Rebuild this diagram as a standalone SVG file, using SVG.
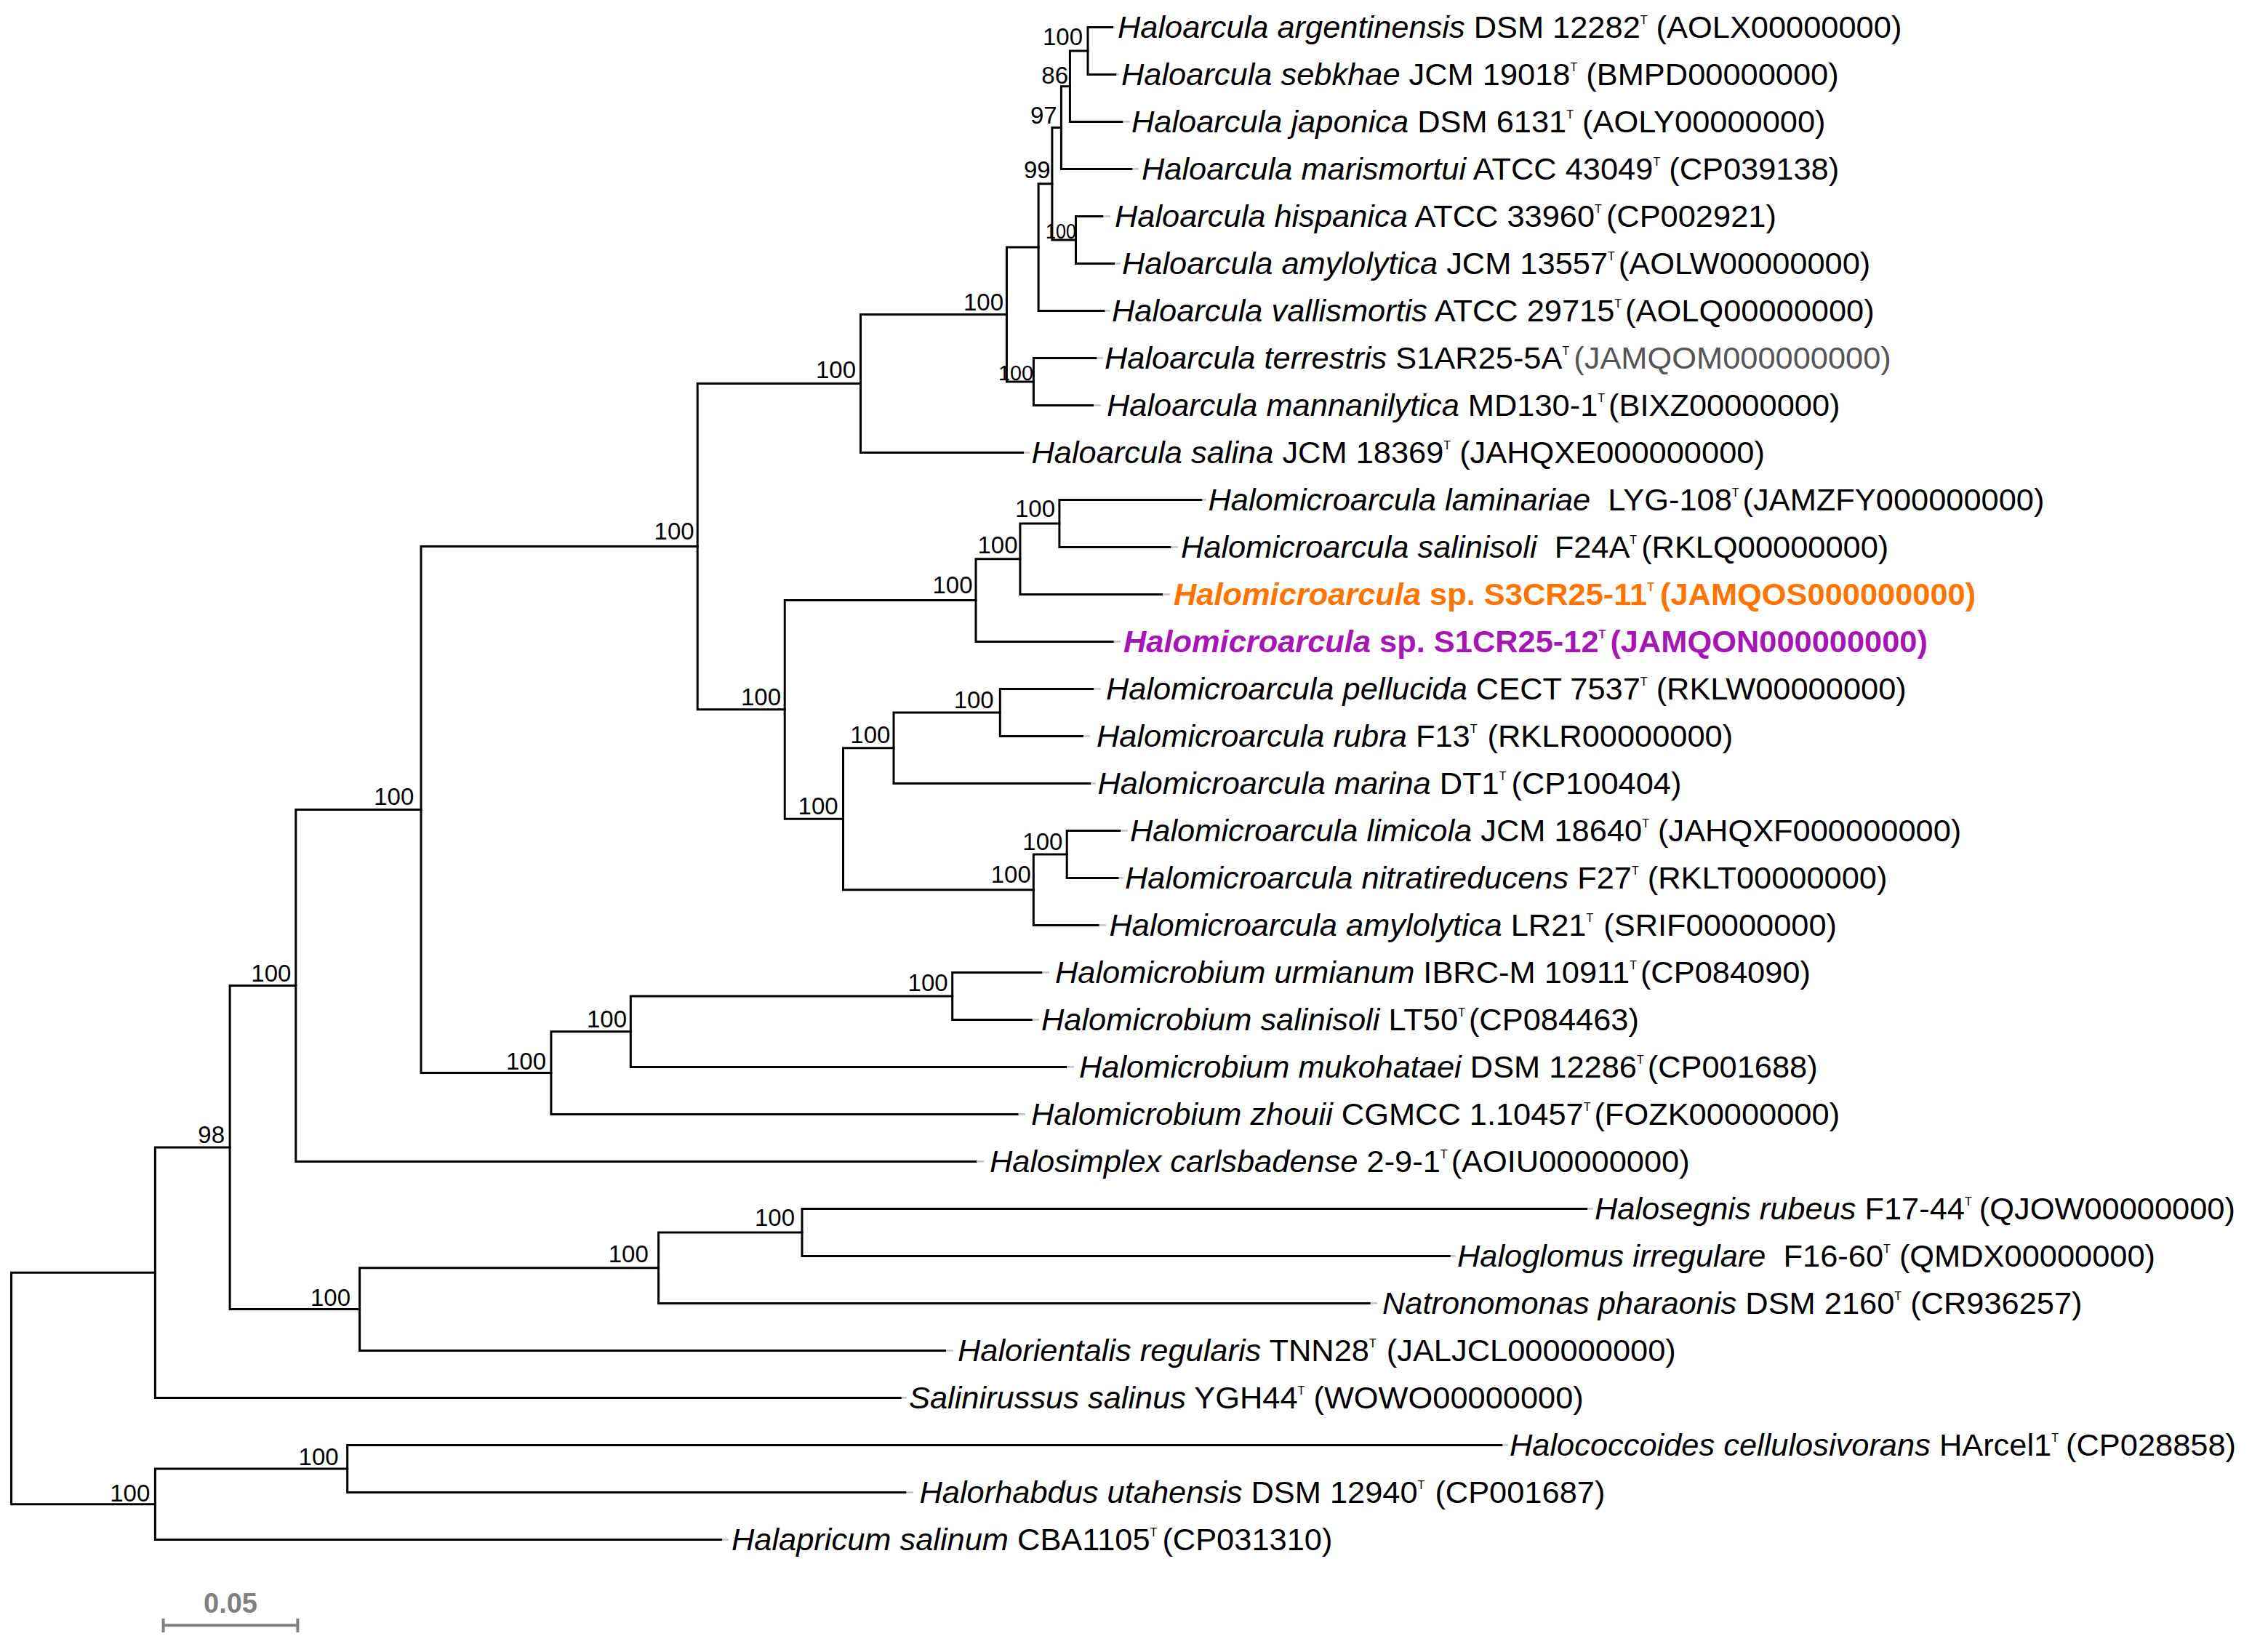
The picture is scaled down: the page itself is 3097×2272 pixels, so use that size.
<svg xmlns="http://www.w3.org/2000/svg" width="3097" height="2272" viewBox="0 0 3097 2272">
<style>
.br{fill:none;stroke:#000;stroke-width:3;stroke-linecap:square;stroke-linejoin:miter}
.tk{stroke:#c4c4c4;stroke-width:2.5}
.lf{font-family:"Liberation Sans",Arial,sans-serif;font-size:43.4px;fill:#000;white-space:pre}
.it{font-style:italic}
.sup{font-size:16px}
.bs{font-family:"Liberation Sans",Arial,sans-serif;font-size:33px;fill:#000;text-anchor:end}
.or{fill:#ff7300;font-weight:bold}
.pu{fill:#a616b5;font-weight:bold}
.gr{fill:#555}
</style>
<rect width="3097" height="2272" fill="#fff"/>
<g id="connectors">
<path class="br" d="M1529.5 37.4H1496V102.4H1534"/>
<path class="br" d="M1496 69.9H1471.4V167.4H1543"/>
<path class="br" d="M1471.4 118.65H1459.4V232.4H1556"/>
<path class="br" d="M1516 297.4H1479.5V362.4H1531.7"/>
<path class="br" d="M1459.4 175.5H1446.9V329.9H1479.5"/>
<path class="br" d="M1446.9 252.7H1428.1V427.4H1518"/>
<path class="br" d="M1507 492.4H1421.4V557.4H1502.7"/>
<path class="br" d="M1428.1 340.05H1384.4V524.9H1421.4"/>
<path class="br" d="M1384.4 432.5H1183.5V622.4H1406.7"/>
<path class="br" d="M1652 687.4H1456.9V752.4H1609"/>
<path class="br" d="M1456.9 719.9H1402.9V817.4H1597.5"/>
<path class="br" d="M1402.9 768.65H1342V882.4H1530.3"/>
<path class="br" d="M1502.8 947.4H1375.3V1012.4H1488.4"/>
<path class="br" d="M1375.3 979.9H1229V1077.4H1498.8"/>
<path class="br" d="M1540 1142.4H1467.2V1207.4H1537.2"/>
<path class="br" d="M1467.2 1174.9H1421.3V1272.4H1510.2"/>
<path class="br" d="M1229 1028.65H1159.5V1223.65H1421.3"/>
<path class="br" d="M1342 825.5H1079.2V1126.15H1159.5"/>
<path class="br" d="M1183.5 527.45H959.2V975.8H1079.2"/>
<path class="br" d="M1432 1337.4H1309.7V1402.4H1418.3"/>
<path class="br" d="M1309.7 1369.9H867.3V1467.4H1465.8"/>
<path class="br" d="M867.3 1418.65H757.9V1532.4H1399.2"/>
<path class="br" d="M959.2 751.6H579V1475.5H757.9"/>
<path class="br" d="M579 1113.55H406.8V1597.4H1341.8"/>
<path class="br" d="M2181.7 1662.4H1103V1727.4H1993.3"/>
<path class="br" d="M1103 1694.9H905.6V1792.4H1883.3"/>
<path class="br" d="M905.6 1743.65H494.6V1857.4H1299.7"/>
<path class="br" d="M406.8 1355.5H316.1V1800.5H494.6"/>
<path class="br" d="M316.1 1578H213.4V1922.4H1238.3"/>
<path class="br" d="M2065 1987.4H477.7V2052.4H1245"/>
<path class="br" d="M477.7 2019.9H213.4V2117.4H991.7"/>
<path class="br" d="M213.4 1750.2H15.6V2068.65H213.4"/>
<g class="tk">
<line x1="1531" y1="37.4" x2="1533" y2="37.4"/>
<line x1="1535.5" y1="102.4" x2="1539" y2="102.4"/>
<line x1="1544.5" y1="167.4" x2="1554" y2="167.4"/>
<line x1="1557.5" y1="232.4" x2="1566" y2="232.4"/>
<line x1="1517.5" y1="297.4" x2="1527" y2="297.4"/>
<line x1="1533.2" y1="362.4" x2="1541" y2="362.4"/>
<line x1="1519.5" y1="427.4" x2="1527" y2="427.4"/>
<line x1="1508.5" y1="492.4" x2="1517" y2="492.4"/>
<line x1="1504.2" y1="557.4" x2="1514" y2="557.4"/>
<line x1="1408.2" y1="622.4" x2="1416" y2="622.4"/>
<line x1="1653.5" y1="687.4" x2="1659" y2="687.4"/>
<line x1="1610.5" y1="752.4" x2="1620" y2="752.4"/>
<line x1="1599" y1="817.4" x2="1609" y2="817.4"/>
<line x1="1531.8" y1="882.4" x2="1541" y2="882.4"/>
<line x1="1504.3" y1="947.4" x2="1514" y2="947.4"/>
<line x1="1489.9" y1="1012.4" x2="1499" y2="1012.4"/>
<line x1="1500.3" y1="1077.4" x2="1507" y2="1077.4"/>
<line x1="1541.5" y1="1142.4" x2="1551" y2="1142.4"/>
<line x1="1538.7" y1="1207.4" x2="1545" y2="1207.4"/>
<line x1="1511.7" y1="1272.4" x2="1521" y2="1272.4"/>
<line x1="1433.5" y1="1337.4" x2="1443" y2="1337.4"/>
<line x1="1419.8" y1="1402.4" x2="1429" y2="1402.4"/>
<line x1="1467.3" y1="1467.4" x2="1477" y2="1467.4"/>
<line x1="1400.7" y1="1532.4" x2="1410" y2="1532.4"/>
<line x1="1343.3" y1="1597.4" x2="1353" y2="1597.4"/>
<line x1="2183.2" y1="1662.4" x2="2191" y2="1662.4"/>
<line x1="1994.8" y1="1727.4" x2="2002" y2="1727.4"/>
<line x1="1884.8" y1="1792.4" x2="1894" y2="1792.4"/>
<line x1="1301.2" y1="1857.4" x2="1311" y2="1857.4"/>
<line x1="1239.8" y1="1922.4" x2="1247" y2="1922.4"/>
<line x1="2066.5" y1="1987.4" x2="2074" y2="1987.4"/>
<line x1="1246.5" y1="2052.4" x2="1256" y2="2052.4"/>
<line x1="993.2" y1="2117.4" x2="1002" y2="2117.4"/>
</g>
</g>
<g id="leaf-0"><text class="lf" x="1537" y="52.4"><tspan class="it">Haloarcula argentinensis</tspan> DSM 12282<tspan class="sup" dy="-19">T</tspan><tspan dy="19"> (AOLX00000000)</tspan></text></g>
<g id="leaf-1"><text class="lf" x="1542" y="117.4"><tspan class="it">Haloarcula sebkhae</tspan> JCM 19018<tspan class="sup" dy="-19">T</tspan><tspan dy="19"> (BMPD00000000)</tspan></text></g>
<g id="leaf-2"><text class="lf" x="1556" y="182.4"><tspan class="it">Haloarcula japonica</tspan> DSM 6131<tspan class="sup" dy="-19">T</tspan><tspan dy="19"> (AOLY00000000)</tspan></text></g>
<g id="leaf-3"><text class="lf" x="1570" y="247.4"><tspan class="it">Haloarcula marismortui</tspan> ATCC 43049<tspan class="sup" dy="-19">T</tspan><tspan dy="19"> (CP039138)</tspan></text></g>
<g id="leaf-4"><text class="lf" x="1533" y="312.4"><tspan class="it">Haloarcula hispanica</tspan> ATCC 33960<tspan class="sup" dy="-19">T</tspan><tspan dy="19" dx="6">(CP002921)</tspan></text></g>
<g id="leaf-5"><text class="lf" x="1543" y="377.4"><tspan class="it">Haloarcula amylolytica</tspan> JCM 13557<tspan class="sup" dy="-19">T</tspan><tspan dy="19" dx="5">(AOLW00000000)</tspan></text></g>
<g id="leaf-6"><text class="lf" x="1529" y="442.4"><tspan class="it">Haloarcula vallismortis</tspan> ATCC 29715<tspan class="sup" dy="-19">T</tspan><tspan dy="19" dx="5">(AOLQ00000000)</tspan></text></g>
<g id="leaf-7"><text class="lf" x="1519" y="507.4"><tspan class="it">Haloarcula terrestris</tspan> S1AR25-5A<tspan class="sup" dy="-19">T</tspan><tspan dy="19" dx="-6" class="gr"> (JAMQOM000000000)</tspan></text></g>
<g id="leaf-8"><text class="lf" x="1522" y="572.4"><tspan class="it">Haloarcula mannanilytica</tspan> MD130-1<tspan class="sup" dy="-19">T</tspan><tspan dy="19" dx="5">(BIXZ00000000)</tspan></text></g>
<g id="leaf-9"><text class="lf" x="1418.5" y="637.4"><tspan class="it">Haloarcula salina</tspan> JCM 18369<tspan class="sup" dy="-19">T</tspan><tspan dy="19"> (JAHQXE000000000)</tspan></text></g>
<g id="leaf-10"><text class="lf" x="1661.5" y="702.4"><tspan class="it">Halomicroarcula laminariae</tspan>  LYG-108<tspan class="sup" dy="-19">T</tspan><tspan dy="19" dx="5">(JAMZFY000000000)</tspan></text></g>
<g id="leaf-11"><text class="lf" x="1624" y="767.4"><tspan class="it">Halomicroarcula salinisoli</tspan>  F24A<tspan class="sup" dy="-19">T</tspan><tspan dy="19" dx="6">(RKLQ00000000)</tspan></text></g>
<g id="leaf-12"><text class="lf or" x="1614" y="832.4"><tspan class="it">Halomicroarcula</tspan> sp. S3CR25-11<tspan class="sup" dy="-19">T</tspan><tspan dy="19" dx="-4"> (JAMQOS000000000)</tspan></text></g>
<g id="leaf-13"><text class="lf pu" x="1545" y="897.4"><tspan class="it">Halomicroarcula</tspan> sp. S1CR25-12<tspan class="sup" dy="-19">T</tspan><tspan dy="19" dx="-6"> (JAMQON000000000)</tspan></text></g>
<g id="leaf-14"><text class="lf" x="1521" y="962.4"><tspan class="it">Halomicroarcula pellucida</tspan> CECT 7537<tspan class="sup" dy="-19">T</tspan><tspan dy="19"> (RKLW00000000)</tspan></text></g>
<g id="leaf-15"><text class="lf" x="1508" y="1027.4"><tspan class="it">Halomicroarcula rubra</tspan> F13<tspan class="sup" dy="-19">T</tspan><tspan dy="19" dx="2"> (RKLR00000000)</tspan></text></g>
<g id="leaf-16"><text class="lf" x="1509.5" y="1092.4"><tspan class="it">Halomicroarcula marina</tspan> DT1<tspan class="sup" dy="-19">T</tspan><tspan dy="19" dx="7">(CP100404)</tspan></text></g>
<g id="leaf-17"><text class="lf" x="1554" y="1157.4"><tspan class="it">Halomicroarcula limicola</tspan> JCM 18640<tspan class="sup" dy="-19">T</tspan><tspan dy="19"> (JAHQXF000000000)</tspan></text></g>
<g id="leaf-18"><text class="lf" x="1547" y="1222.4"><tspan class="it">Halomicroarcula nitratireducens</tspan> F27<tspan class="sup" dy="-19">T</tspan><tspan dy="19"> (RKLT00000000)</tspan></text></g>
<g id="leaf-19"><text class="lf" x="1525.5" y="1287.4"><tspan class="it">Halomicroarcula amylolytica</tspan> LR21<tspan class="sup" dy="-19">T</tspan><tspan dy="19" dx="2"> (SRIF00000000)</tspan></text></g>
<g id="leaf-20"><text class="lf" x="1451" y="1352.4"><tspan class="it">Halomicrobium urmianum</tspan> IBRC-M 10911<tspan class="sup" dy="-19">T</tspan><tspan dy="19" dx="5">(CP084090)</tspan></text></g>
<g id="leaf-21"><text class="lf" x="1432" y="1417.4"><tspan class="it">Halomicrobium salinisoli</tspan> LT50<tspan class="sup" dy="-19">T</tspan><tspan dy="19" dx="5">(CP084463)</tspan></text></g>
<g id="leaf-22"><text class="lf" x="1484" y="1482.4"><tspan class="it">Halomicrobium mukohataei</tspan> DSM 12286<tspan class="sup" dy="-19">T</tspan><tspan dy="19" dx="5">(CP001688)</tspan></text></g>
<g id="leaf-23"><text class="lf" x="1418" y="1547.4"><tspan class="it">Halomicrobium zhouii</tspan> CGMCC 1.10457<tspan class="sup" dy="-19">T</tspan><tspan dy="19" dx="5">(FOZK00000000)</tspan></text></g>
<g id="leaf-24"><text class="lf" x="1361" y="1612.4"><tspan class="it">Halosimplex carlsbadense</tspan> 2-9-1<tspan class="sup" dy="-19">T</tspan><tspan dy="19" dx="5">(AOIU00000000)</tspan></text></g>
<g id="leaf-25"><text class="lf" x="2193" y="1677.4"><tspan class="it">Halosegnis rubeus</tspan> F17-44<tspan class="sup" dy="-19">T</tspan><tspan dy="19" dx="-2"> (QJOW00000000)</tspan></text></g>
<g id="leaf-26"><text class="lf" x="2004" y="1742.4"><tspan class="it">Haloglomus irregulare</tspan>  F16-60<tspan class="sup" dy="-19">T</tspan><tspan dy="19"> (QMDX00000000)</tspan></text></g>
<g id="leaf-27"><text class="lf" x="1901" y="1807.4"><tspan class="it">Natronomonas pharaonis</tspan> DSM 2160<tspan class="sup" dy="-19">T</tspan><tspan dy="19"> (CR936257)</tspan></text></g>
<g id="leaf-28"><text class="lf" x="1317" y="1872.4"><tspan class="it">Halorientalis regularis</tspan> TNN28<tspan class="sup" dy="-19">T</tspan><tspan dy="19" dx="2"> (JALJCL000000000)</tspan></text></g>
<g id="leaf-29"><text class="lf" x="1250" y="1937.4"><tspan class="it">Salinirussus salinus</tspan> YGH44<tspan class="sup" dy="-19">T</tspan><tspan dy="19"> (WOWO00000000)</tspan></text></g>
<g id="leaf-30"><text class="lf" x="2076" y="2002.4"><tspan class="it">Halococcoides cellulosivorans</tspan> HArcel1<tspan class="sup" dy="-19">T</tspan><tspan dy="19" dx="-2"> (CP028858)</tspan></text></g>
<g id="leaf-31"><text class="lf" x="1264.5" y="2067.4"><tspan class="it">Halorhabdus utahensis</tspan> DSM 12940<tspan class="sup" dy="-19">T</tspan><tspan dy="19" dx="2"> (CP001687)</tspan></text></g>
<g id="leaf-32"><text class="lf" x="1006" y="2132.4"><tspan class="it">Halapricum salinum</tspan> CBA1105<tspan class="sup" dy="-19">T</tspan><tspan dy="19" dx="7">(CP031310)</tspan></text></g>
<g id="node-A"><text class="bs" x="1489" y="62.2">100</text></g>
<g id="node-B"><text class="bs" x="1469" y="115.2">86</text></g>
<g id="node-C"><text class="bs" x="1453.6" y="170">97</text></g>
<g id="node-D"><text class="bs" x="1444.6" y="244.6">99</text></g>
<g id="node-E"><text class="bs" x="1480" y="328" style="font-size:29px" textLength="42" lengthAdjust="spacingAndGlyphs">100</text></g>
<g id="node-F"/>
<g id="node-G"><text class="bs" x="1421" y="523" style="font-size:29px" textLength="48" lengthAdjust="spacingAndGlyphs">100</text></g>
<g id="node-H"><text class="bs" x="1380" y="427">100</text></g>
<g id="node-I"><text class="bs" x="1177" y="520.3">100</text></g>
<g id="node-N"><text class="bs" x="1451" y="711.4">100</text></g>
<g id="node-M"><text class="bs" x="1399.5" y="761.4">100</text></g>
<g id="node-L"><text class="bs" x="1337.5" y="816.3">100</text></g>
<g id="node-P"><text class="bs" x="1366.7" y="974">100</text></g>
<g id="node-O"><text class="bs" x="1224.4" y="1021.7">100</text></g>
<g id="node-S"><text class="bs" x="1461.4" y="1169">100</text></g>
<g id="node-R"><text class="bs" x="1417.8" y="1213.7">100</text></g>
<g id="node-Q"><text class="bs" x="1152.6" y="1119.9">100</text></g>
<g id="node-K"><text class="bs" x="1074" y="970.4">100</text></g>
<g id="node-J"><text class="bs" x="954.6" y="742">100</text></g>
<g id="node-W"><text class="bs" x="1303.6" y="1362.9">100</text></g>
<g id="node-V"><text class="bs" x="862" y="1412.7">100</text></g>
<g id="node-U"><text class="bs" x="751" y="1470.7">100</text></g>
<g id="node-T"><text class="bs" x="569.3" y="1106.7">100</text></g>
<g id="node-X"><text class="bs" x="400.4" y="1349.6">100</text></g>
<g id="node-Z"><text class="bs" x="1093" y="1686.2">100</text></g>
<g id="node-Y"><text class="bs" x="891.8" y="1736">100</text></g>
<g id="node-AB"><text class="bs" x="482" y="1795.6">100</text></g>
<g id="node-AA"><text class="bs" x="309" y="1572.3">98</text></g>
<g id="node-AE"><text class="bs" x="465.6" y="2015.2">100</text></g>
<g id="node-AD"><text class="bs" x="206.3" y="2064.5">100</text></g>
<g id="scale-bar">
<path d="M224.6 2235.3H409.4M224.6 2226V2245M409.4 2226V2245" fill="none" stroke="#808080" stroke-width="4"/>
<text x="317" y="2217.6" text-anchor="middle" style="font-family:'Liberation Sans',Arial,sans-serif;font-size:38px;font-weight:bold;fill:#808080">0.05</text>
</g>
</svg>
